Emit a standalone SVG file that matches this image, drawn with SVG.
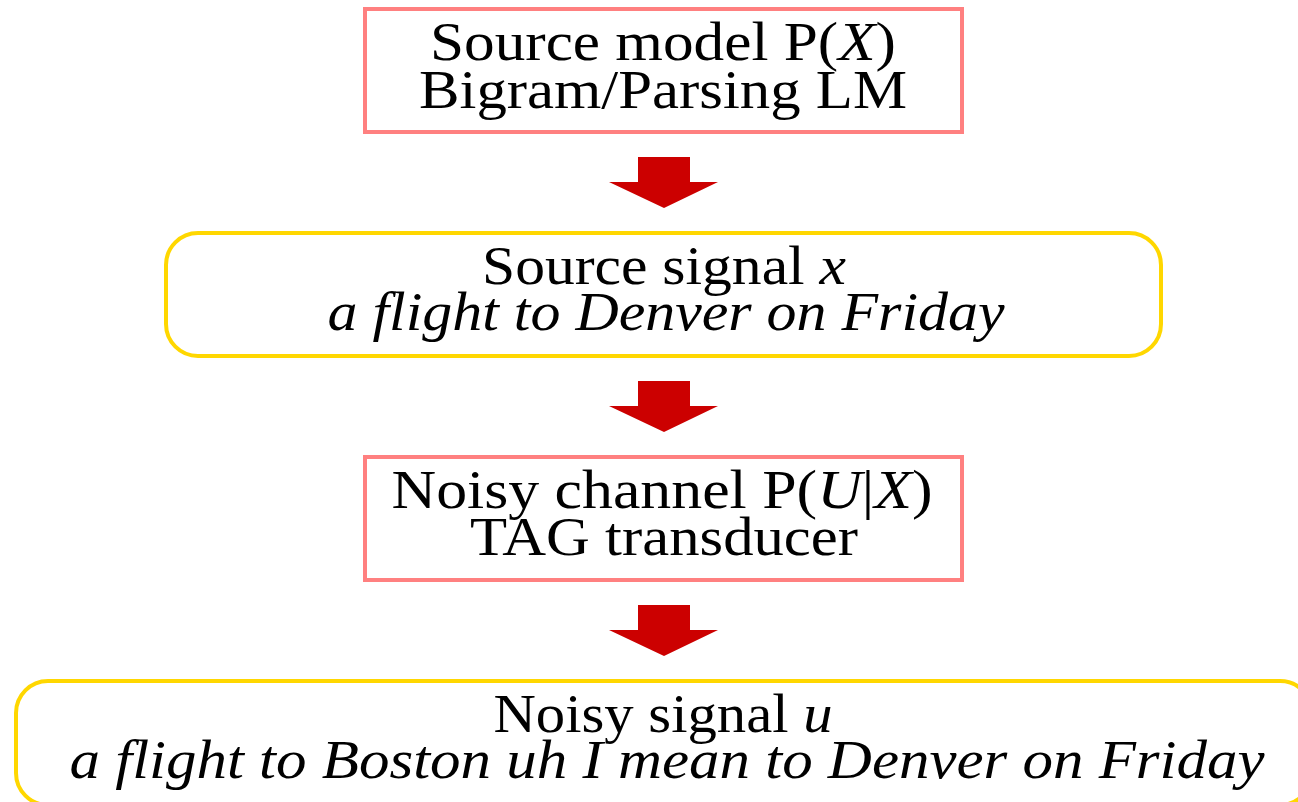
<svg xmlns="http://www.w3.org/2000/svg" width="1298" height="802" viewBox="0 0 1298 802">
<style>
.bg{fill:#ffffff}
.model{fill:#ffffff;stroke:#FF8080;stroke-width:4}
.signal{fill:#ffffff;stroke:#FFD700;stroke-width:4}
.arrow{fill:#CC0000;stroke:none}
text{font-family:"Liberation Serif","Times New Roman",serif;font-size:54px;fill:#000000;text-anchor:middle}
.it{font-style:italic}
</style>
<rect class="bg" x="0" y="0" width="1298" height="802"/>
<g id="source-model">
<rect class="model" x="365" y="9" width="597" height="123"/>
<text x="663" y="60" textLength="466" lengthAdjust="spacingAndGlyphs">Source model P(<tspan class="it">X</tspan>)</text>
<text x="663" y="108" textLength="488" lengthAdjust="spacingAndGlyphs">Bigram/Parsing LM</text>
</g>
<g id="source-signal">
<rect class="signal" x="166" y="233" width="995" height="123" rx="32" ry="32"/>
<text x="664" y="284" textLength="364" lengthAdjust="spacingAndGlyphs">Source signal <tspan class="it">x</tspan></text>
<text class="it" x="666" y="330" textLength="677" lengthAdjust="spacingAndGlyphs">a flight to Denver on Friday</text>
</g>
<g id="noisy-channel">
<rect class="model" x="365" y="457" width="597" height="123"/>
<text x="662" y="508" textLength="541" lengthAdjust="spacingAndGlyphs">Noisy channel P(<tspan class="it">U</tspan>|<tspan class="it">X</tspan>)</text>
<text x="664" y="555" textLength="388" lengthAdjust="spacingAndGlyphs">TAG transducer</text>
</g>
<g id="noisy-signal">
<rect class="signal" x="16" y="681" width="1296" height="124" rx="32" ry="32"/>
<text x="663" y="732" textLength="339" lengthAdjust="spacingAndGlyphs">Noisy signal <tspan class="it">u</tspan></text>
<text class="it" x="667" y="778" textLength="1195" lengthAdjust="spacingAndGlyphs">a flight to Boston uh I mean to Denver on Friday</text>
</g>
<g id="connectors">
<polygon class="arrow" points="638,157 690,157 690,182 718,182 664,208 609,182 638,182"/>
<polygon class="arrow" points="638,381 690,381 690,406 718,406 664,432 609,406 638,406"/>
<polygon class="arrow" points="638,605 690,605 690,630 718,630 664,656 609,630 638,630"/>
</g>
</svg>
